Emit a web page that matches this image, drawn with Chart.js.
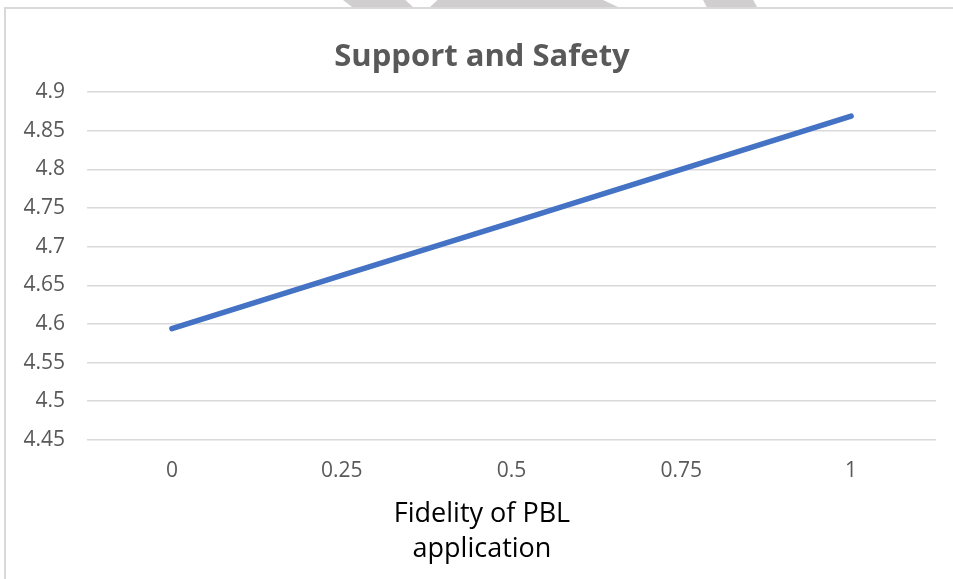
<!DOCTYPE html>
<html lang="en">
<head>
    <meta charset="UTF-8">
    <title>Support and Safety</title>
    <script src="https://cdn.jsdelivr.net/npm/chart.js"></script>
    <style>
        body {
            margin: 0;
            width: 953px;
            height: 579px;
            overflow: hidden;
            position: relative;
            background: #fff;
            font-family: "Open Sans", sans-serif;
        }
        /* faint grey shapes peeking in at the top edge */
        .mark {
            position: absolute;
            top: 0;
            height: 7px;
            background: #d0cece;
        }
        .chart-box {
            position: absolute;
            left: 4px;
            top: 7px;
            width: 960px;
            height: 590px;
            border-left: 2px solid #d9d9d9;
            border-top: 2px solid #d9d9d9;
            background: #fff;
        }
    </style>
</head>
<body>

<div class="mark" style="left:343px;width:70px;clip-path:polygon(0 0,89% 0,100% 100%,13% 100%);"></div>
<div class="mark" style="left:430px;width:188px;clip-path:polygon(4% 0,92% 0,100% 100%,0 100%);"></div>
<div class="mark" style="left:703px;width:54px;clip-path:polygon(0 0,93% 0,100% 100%,7% 100%);"></div>

<div class="chart-box">
    <canvas id="chart" width="952" height="590"></canvas>
</div>

<script>
    // x categories (Fidelity of PBL application)
    const fidelityLabels = ['0', '0.25', '0.5', '0.75', '1'];
    // Support and Safety score
    const supportValues = [4.594, 4.663, 4.731, 4.800, 4.869];
    // y axis range
    const yMin = 4.45;
    const yMax = 4.9;
    const yStep = 0.05;

    const ctx = document.getElementById('chart').getContext('2d');

    new Chart(ctx, {
        type: 'line',
        data: {
            labels: fidelityLabels,
            datasets: [{
                label: 'Support and Safety',
                data: supportValues,
                borderColor: '#4472C4',
                borderWidth: 5.5,
                borderCapStyle: 'round',
                pointRadius: 0,
                tension: 0,
                fill: false
            }]
        },
        options: {
            responsive: false,
            animation: false,
            layout: { padding: 0 },
            plugins: {
                legend: { display: false },
                tooltip: { enabled: false },
                title: {
                    display: true,
                    text: 'Support and Safety',
                    color: '#595959',
                    font: { family: 'Open Sans', size: 31, weight: 'bold' },
                    padding: { top: 30, bottom: 16 }
                },
                subtitle: {
                    display: true,
                    position: 'bottom',
                    text: ['Fidelity of PBL', 'application'],
                    color: '#000',
                    font: { family: 'Open Sans', size: 27, lineHeight: 1.3 },
                    padding: { top: 13, bottom: 32 }
                }
            },
            scales: {
                x: {
                    offset: true,
                    afterFit: (scale) => { scale.height = 44; },
                    grid: { display: false, drawTicks: false },
                    border: { display: false },
                    ticks: {
                        color: '#595959',
                        font: { family: 'Open Sans', size: 21 },
                        padding: 19
                    }
                },
                y: {
                    min: yMin,
                    max: yMax,
                    afterFit: (scale) => { scale.width = 81; },
                    grid: { color: '#d9d9d9', lineWidth: 1.5, drawTicks: false },
                    border: { display: false },
                    ticks: {
                        stepSize: yStep,
                        color: '#595959',
                        font: { family: 'Open Sans', size: 21 },
                        padding: 22,
                        callback: (v) => parseFloat(v.toFixed(2)).toString()
                    }
                },
                // empty right axis, only keeps the gap right of the plot
                yRight: {
                    position: 'right',
                    min: yMin,
                    max: yMax,
                    afterFit: (scale) => { scale.width = 22; },
                    grid: { display: false, drawTicks: false },
                    border: { display: false },
                    ticks: { display: false }
                }
            }
        }
    });
</script>

</body>
</html>
